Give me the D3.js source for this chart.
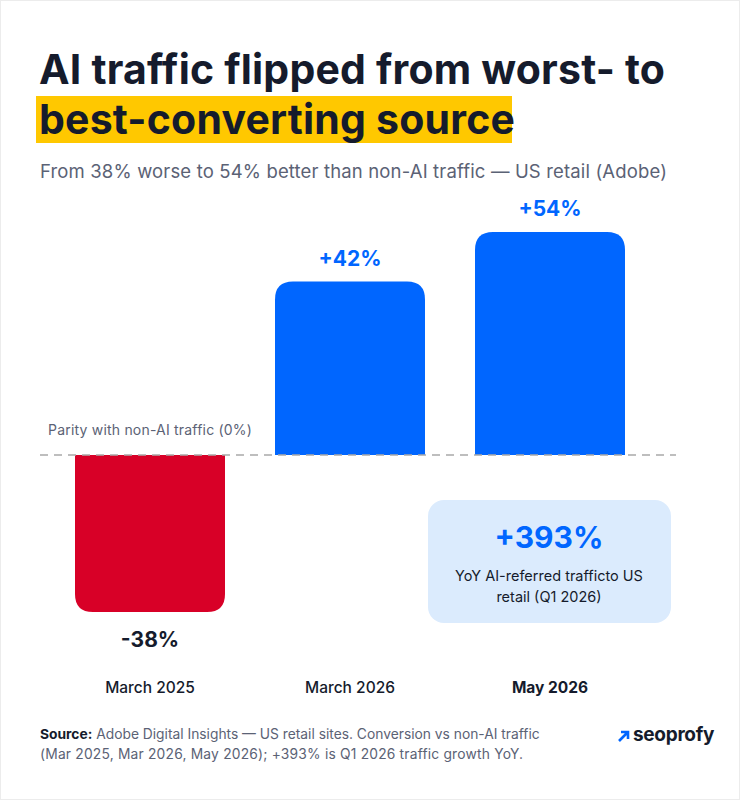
<!DOCTYPE html>
<html>
<meta charset="utf-8">
<style>
  body { margin: 0; background: #fff; }
  svg { width: 740px; height: 800px; display: block; }
  text { font-family: Inter, "Noto Sans", sans-serif; }
</style>
<body>
  <svg></svg>
</body>
<script src="https://cdn.jsdelivr.net/npm/d3@7/dist/d3.min.js"></script>
<script>

  // data
  var categories = ["March 2025", "March 2026", "May 2026"];
  var values = [-38, 42, 54];
  var valueLabels = ["-38%", "+42%", "+54%"];
  var calloutValue = "+393%";
  var calloutText = ["YoY AI-referred trafficto US", "retail (Q1 2026)"];

  var svg = d3.select("svg");
  var dark = "#151b2c", grey = "#5b6275", blue = "#0066ff", red = "#d80027";

  svg.append("rect").attr("x", 0.5).attr("y", 0.5).attr("width", 739).attr("height", 799)
    .attr("fill", "#fff").attr("stroke", "#ececec");

  // title
  svg.append("rect").attr("x", 36).attr("y", 96).attr("width", 476).attr("height", 47).attr("fill", "#ffc800");
  svg.append("text").attr("x", 39).attr("y", 84).attr("font-size", 41).attr("font-weight", 700)
    .attr("fill", dark).attr("letter-spacing", 0.2).text("AI traffic flipped from worst- to");
  svg.append("text").attr("x", 39).attr("y", 134).attr("font-size", 41).attr("font-weight", 700)
    .attr("fill", dark).attr("letter-spacing", 0.2).text("best-converting source");
  svg.append("text").attr("x", 40).attr("y", 178).attr("font-size", 18.5).attr("letter-spacing", 0.15)
    .attr("fill", grey).text("From 38% worse to 54% better than non-AI traffic \u2014 US retail (Adobe)");

  // scales
  var x = d3.scaleBand().domain(categories).range([50, 650]).paddingInner(0.25).paddingOuter(0.125);
  var y = d3.scaleLinear().domain([0, 54]).range([455, 232]);

  var r = 18;
  function barPath(d, i) {
    var x0 = x(categories[i]), w = x.bandwidth();
    var y0 = y(0), y1 = y(d);
    var s = d >= 0 ? 1 : -1;
    return "M" + x0 + "," + y0 + "V" + (y1 + s * r) + "Q" + x0 + "," + y1 + " " + (x0 + r) + "," + y1 +
      "H" + (x0 + w - r) + "Q" + (x0 + w) + "," + y1 + " " + (x0 + w) + "," + (y1 + s * r) + "V" + y0 + "Z";
  }

  svg.selectAll(".bar").data(values).enter().append("path")
    .attr("class", "bar")
    .attr("d", barPath)
    .attr("fill", function(d) { return d < 0 ? red : blue; });

  // zero line
  svg.append("line").attr("x1", 40).attr("x2", 676).attr("y1", y(0)).attr("y2", y(0))
    .attr("stroke", "#a9a9a9").attr("stroke-width", 1.5).attr("stroke-dasharray", "8,6");
  svg.append("text").attr("x", 48).attr("y", 435).attr("font-size", 14).attr("fill", grey)
    .attr("letter-spacing", 0.2).text("Parity with non-AI traffic (0%)");

  // value labels
  svg.selectAll(".val").data(values).enter().append("text")
    .attr("class", "val")
    .attr("x", function(d, i) { return x(categories[i]) + x.bandwidth() / 2; })
    .attr("y", function(d) { return d < 0 ? y(d) + 35 : y(d) - 16; })
    .attr("text-anchor", "middle").attr("font-size", 21).attr("font-weight", 700)
    .attr("fill", function(d) { return d < 0 ? dark : blue; })
    .text(function(d, i) { return valueLabels[i]; });

  // category labels
  svg.selectAll(".cat").data(categories).enter().append("text")
    .attr("class", "cat")
    .attr("x", function(d) { return x(d) + x.bandwidth() / 2; })
    .attr("y", 693).attr("text-anchor", "middle").attr("font-size", 15.5)
    .attr("font-weight", function(d, i) { return i == 2 ? 700 : 500; })
    .attr("fill", dark).text(function(d) { return d; });

  // callout
  svg.append("rect").attr("x", 428).attr("y", 500).attr("width", 243).attr("height", 123)
    .attr("rx", 16).attr("fill", "#dbebfd");
  svg.append("text").attr("x", 549).attr("y", 548).attr("text-anchor", "middle")
    .attr("font-size", 30).attr("font-weight", 700).attr("fill", blue).text(calloutValue);
  svg.selectAll(".co").data(calloutText).enter().append("text")
    .attr("x", 549).attr("y", function(d, i) { return 581 + i * 21; })
    .attr("text-anchor", "middle").attr("font-size", 14.5).attr("fill", dark).text(function(d) { return d; });

  // source
  var s1 = svg.append("text").attr("x", 40).attr("y", 739).attr("font-size", 13.8).attr("fill", grey);
  s1.append("tspan").attr("font-weight", 700).attr("fill", dark).text("Source:");
  s1.append("tspan").text(" Adobe Digital Insights \u2014 US retail sites. Conversion vs non-AI traffic");
  svg.append("text").attr("x", 40).attr("y", 759).attr("font-size", 13.8).attr("fill", grey)
    .attr("letter-spacing", 0.2).text("(Mar 2025, Mar 2026, May 2026); +393% is Q1 2026 traffic growth YoY.");

  // logo
  svg.append("path").attr("d", "M619,741 L627,733 M621,732 H628 V739")
    .attr("stroke", blue).attr("stroke-width", 2.6).attr("fill", "none");
  svg.append("text").attr("x", 633).attr("y", 741).attr("font-size", 19).attr("font-weight", 700)
    .attr("fill", dark).attr("letter-spacing", -0.3).text("seoprofy");

</script>
</html>
